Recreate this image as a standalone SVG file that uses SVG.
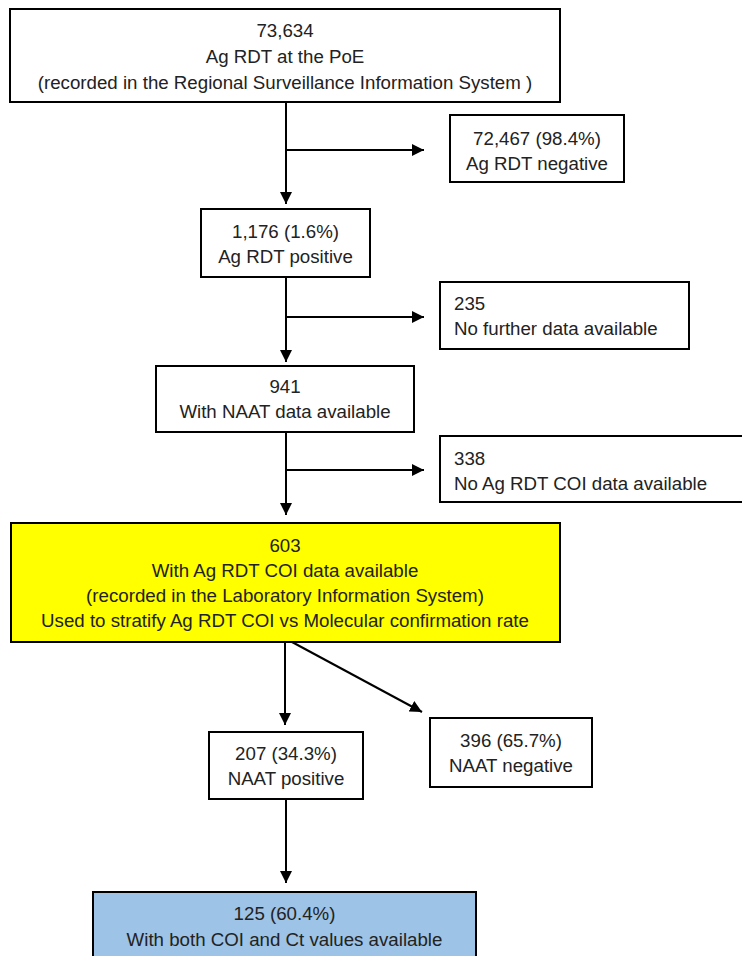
<svg xmlns="http://www.w3.org/2000/svg" width="742" height="956" viewBox="0 0 742 956">
<defs>
<marker id="ah" markerUnits="userSpaceOnUse" markerWidth="12" markerHeight="12" refX="12" refY="6" orient="auto">
<path d="M0,0 L12,6 L0,12 z" fill="#000"/>
</marker>
<style>
.box{fill:#fff;stroke:#000;stroke-width:2}
.t{font-family:"Liberation Sans",Arial,sans-serif;font-size:18.7px;fill:#222;text-anchor:middle}
.l{text-anchor:start}
.c{stroke:#000;stroke-width:2;fill:none}
.a{marker-end:url(#ah)}
</style>
</defs>
<rect width="742" height="956" fill="#fff"/>
<g id="connectors">
<line class="c a" x1="286" y1="102" x2="286" y2="204"/>
<line class="c a" x1="286" y1="150" x2="424" y2="150"/>
<line class="c a" x1="286" y1="277" x2="286" y2="362"/>
<line class="c a" x1="286" y1="317" x2="424" y2="317"/>
<line class="c a" x1="286" y1="432" x2="286" y2="515"/>
<line class="c a" x1="286" y1="470" x2="424" y2="470"/>
<line class="c a" x1="285" y1="642" x2="285" y2="725"/>
<line class="c a" x1="292" y1="642" x2="422" y2="712"/>
<line class="c a" x1="286" y1="799" x2="286" y2="883"/>
</g>
<g id="n1">
<rect class="box" x="10" y="9" width="550" height="93"/>
<text class="t" x="285" y="37">73,634</text>
<text class="t" x="285" y="63">Ag RDT at the PoE</text>
<text class="t" x="285" y="89">(recorded in the Regional Surveillance Information System )</text>
</g>
<g id="n2">
<rect class="box" x="450" y="115" width="174" height="67"/>
<text class="t" x="537" y="145">72,467 (98.4%)</text>
<text class="t" x="537" y="170">Ag RDT negative</text>
</g>
<g id="n3">
<rect class="box" x="201" y="209" width="169" height="68"/>
<text class="t" x="285.5" y="238">1,176 (1.6%)</text>
<text class="t" x="285.5" y="263">Ag RDT positive</text>
</g>
<g id="n4">
<rect class="box" x="440" y="282" width="249" height="67"/>
<text class="t l" x="454" y="310">235</text>
<text class="t l" x="454" y="335">No further data available</text>
</g>
<g id="n5">
<rect class="box" x="156" y="366" width="258" height="66"/>
<text class="t" x="285" y="393">941</text>
<text class="t" x="285" y="418">With NAAT data available</text>
</g>
<g id="n6">
<rect class="box" x="440" y="436" width="320" height="66"/>
<text class="t l" x="454" y="465">338</text>
<text class="t l" x="454" y="490">No Ag RDT COI data available</text>
</g>
<g id="n7">
<rect class="box" x="11" y="523" width="549" height="119" style="fill:#ffff00"/>
<text class="t" x="285" y="552">603</text>
<text class="t" x="285" y="577">With Ag RDT COI data available</text>
<text class="t" x="285" y="602">(recorded in the Laboratory Information System)</text>
<text class="t" x="285" y="627">Used to stratify Ag RDT COI vs Molecular confirmation rate</text>
</g>
<g id="n8">
<rect class="box" x="209" y="732" width="154" height="67"/>
<text class="t" x="286" y="760">207 (34.3%)</text>
<text class="t" x="286" y="785">NAAT positive</text>
</g>
<g id="n9">
<rect class="box" x="430" y="718" width="162" height="69"/>
<text class="t" x="511" y="747">396 (65.7%)</text>
<text class="t" x="511" y="772">NAAT negative</text>
</g>
<g id="n10">
<rect class="box" x="93" y="892" width="383" height="80" style="fill:#9dc3e6"/>
<text class="t" x="284.5" y="920">125 (60.4%)</text>
<text class="t" x="284.5" y="946">With both COI and Ct values available</text>
</g>
</svg>
